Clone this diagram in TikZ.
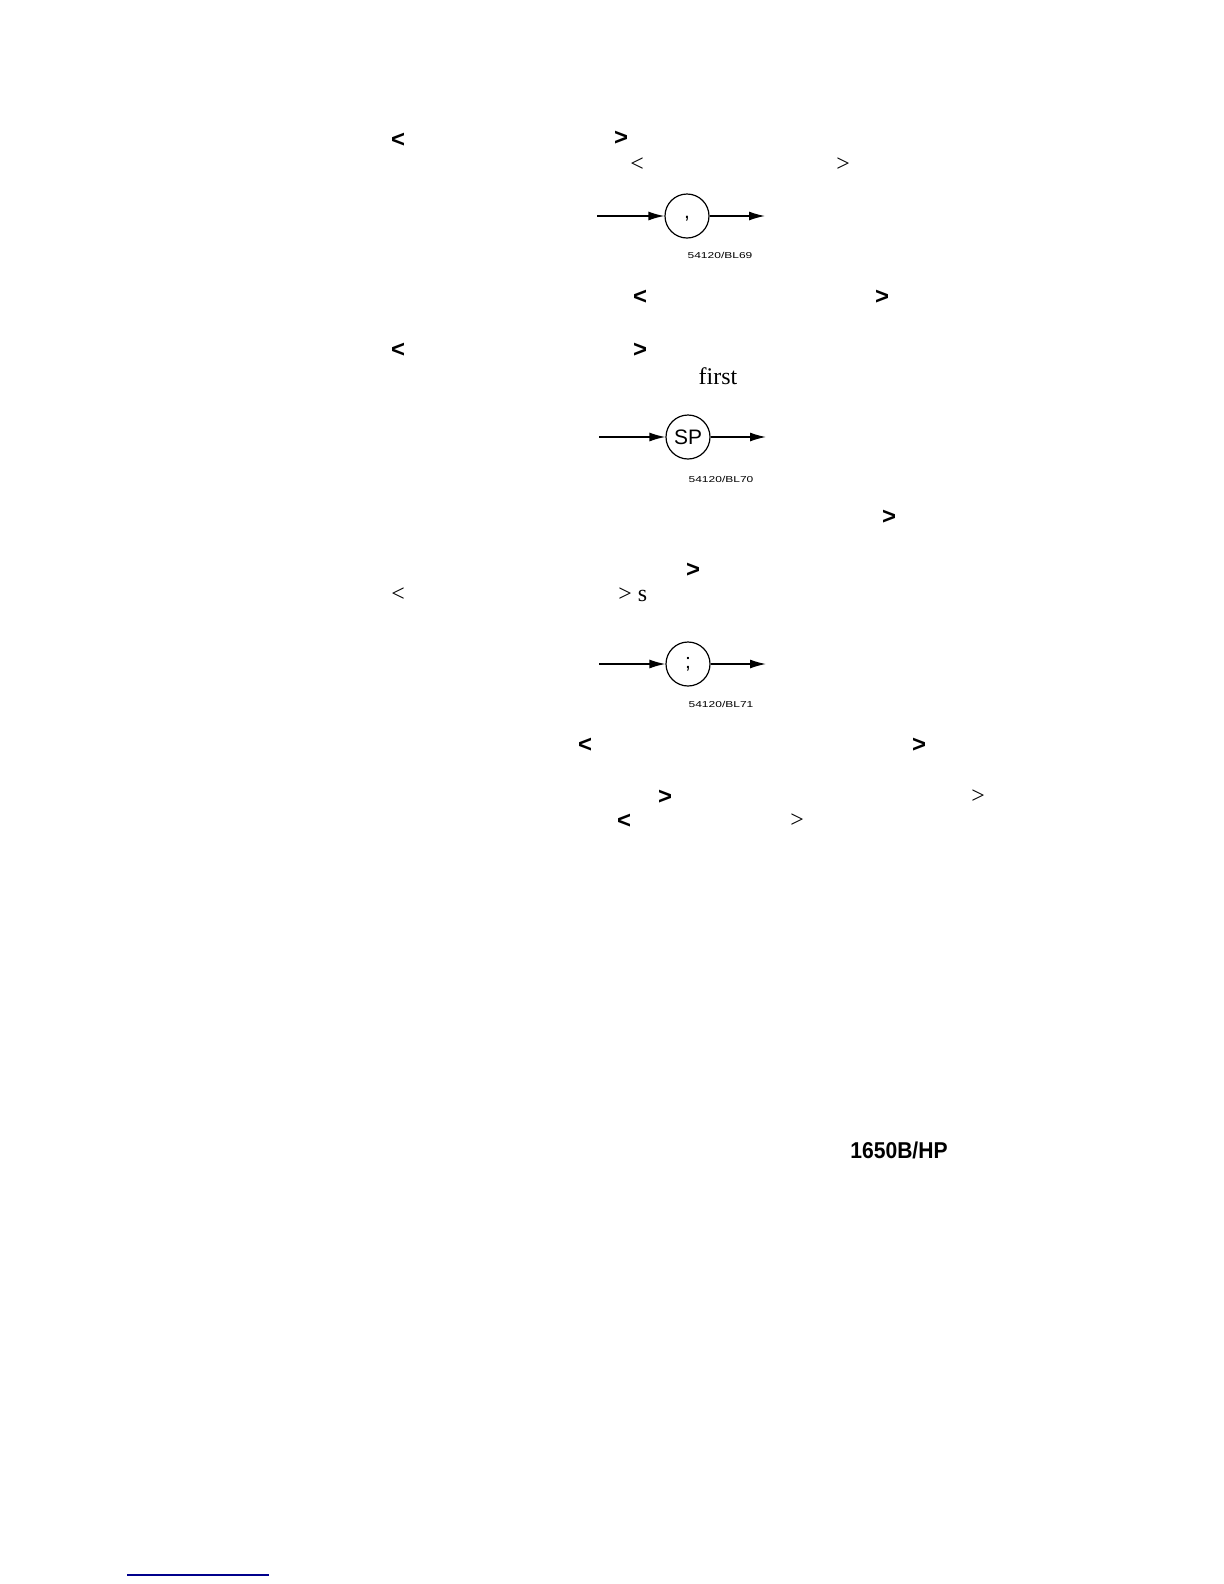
\documentclass[tikz,border=0pt]{standalone}
\usepackage{fontspec}
\setmainfont{Liberation Serif}
\newfontfamily\helv{Liberation Sans}
\usetikzlibrary{arrows.meta}

\begin{document}
\begin{tikzpicture}[x=0.5bp, y=-0.5bp,
bracket/.style = {font=\helv\bfseries\fontsize{12}{14}\selectfont, inner sep=0pt},
thin bracket/.style = {font=\fontsize{12}{14}\selectfont, inner sep=0pt},
syn circle/.style = {draw, circle, line width=0.6bp, minimum size=22bp, inner sep=0pt, font=\helv\fontsize{10.5}{12}\selectfont},
fig label/.style = {font=\helv\fontsize{4.3}{5}\selectfont, inner sep=0pt},
flow/.style = {-{Latex[length=8bp,width=4.5bp]}, line width=0.7bp}]
\useasboundingbox (0,0) rectangle (1224,1584);

% brackets round the first diagram
\node[bracket] (b1) at (398,140) {<};
\node[bracket] (b2) at (621,138) {>};
\node[thin bracket] (b3) at (637,165) {<};
\node[thin bracket] (b4) at (843,165) {>};

% comma
\coordinate (in1) at (597,216);
\node[syn circle, text height=0.45em, text depth=0.15em] (comma) at (687,216) {,};
\coordinate (out1) at (765,216);
\draw[flow] (in1) -- (comma);
\draw[flow] (comma) -- (out1);
\node[fig label] at (720,255) {\scalebox{1.4}[1]{54120/BL69}};

\node[bracket] (b5) at (640,297) {<};
\node[bracket] (b6) at (882,297) {>};
\node[bracket] (b7) at (398,350) {<};
\node[bracket] (b8) at (640,350) {>};
\node[font=\fontsize{12}{14}\selectfont] (first) at (718,376) {first};

% space
\coordinate (in2) at (599,437);
\node[syn circle] (space) at (688,437) {SP};
\coordinate (out2) at (766,437);
\draw[flow] (in2) -- (space);
\draw[flow] (space) -- (out2);
\node[fig label] at (721,479) {\scalebox{1.4}[1]{54120/BL70}};

\node[bracket] (b9) at (889,517) {>};
\node[bracket] (b10) at (693,570) {>};
\node[thin bracket] (b11) at (398,595) {<};
\node[thin bracket, anchor=west] (b12) at (618,595) {> s};

% semicolon
\coordinate (in3) at (599,664);
\node[syn circle] (semi) at (688,664) {;};
\coordinate (out3) at (766,664);
\draw[flow] (in3) -- (semi);
\draw[flow] (semi) -- (out3);
\node[fig label] at (721,704) {\scalebox{1.4}[1]{54120/BL71}};

\node[bracket] (b13) at (585,745) {<};
\node[bracket] (b14) at (919,745) {>};
\node[bracket] (b15) at (665,797) {>};
\node[thin bracket] (b16) at (978,797) {>};
\node[bracket] (b17) at (624,821) {<};
\node[thin bracket] (b18) at (797,821) {>};

\node[font=\helv\bfseries\fontsize{11.5}{13}\selectfont] (model) at (899,1150) {\scalebox{0.92}[1]{1650B/HP}};

\coordinate (ul1) at (127,1575);
\coordinate (ul2) at (269,1575);
\draw[blue!55!black, line width=0.8bp] (ul1) -- (ul2);
\end{tikzpicture}
\end{document}
